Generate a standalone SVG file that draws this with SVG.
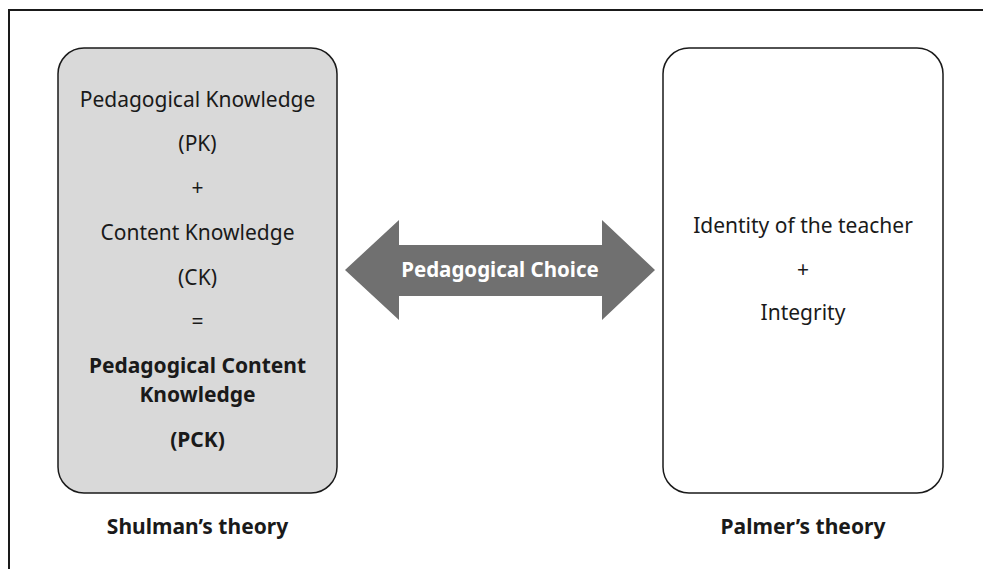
<svg xmlns="http://www.w3.org/2000/svg" width="983" height="569" viewBox="0 0 983 569">
<style>
text{font-family:"Noto Sans","Liberation Sans",sans-serif;font-size:21px;fill:#1a1a1a;text-anchor:middle}
.b{font-weight:bold}
.w{fill:#ffffff;font-weight:bold;font-size:20.5px}
.box{stroke:#1a1a1a;stroke-width:1.5}
</style>
<rect width="983" height="569" fill="#ffffff"/>
<g id="frame"><path d="M9 570 V10 H984" fill="none" stroke="#1a1a1a" stroke-width="2"/></g>
<g id="shulman">
<rect class="box" x="58" y="48" width="279" height="445" rx="26" fill="#d9d9d9"/>
<text x="197.5" y="107">Pedagogical Knowledge</text>
<text x="197.5" y="151">(PK)</text>
<text x="197.5" y="195">+</text>
<text x="197.5" y="240">Content Knowledge</text>
<text x="197.5" y="285">(CK)</text>
<text x="197.5" y="329">=</text>
<text class="b" x="197.5" y="373">Pedagogical Content</text>
<text class="b" x="197.5" y="402">Knowledge</text>
<text class="b" x="197.5" y="447">(PCK)</text>
<text class="b" x="197.5" y="534">Shulman’s theory</text>
</g>
<g id="palmer">
<rect class="box" x="663" y="48" width="280" height="445" rx="26" fill="#ffffff"/>
<text x="803" y="233">Identity of the teacher</text>
<text x="803" y="277">+</text>
<text x="803" y="320">Integrity</text>
<text class="b" x="803" y="534">Palmer’s theory</text>
</g>
<g id="connectors">
<polygon points="345,270 399,220 399,245 602,245 602,220 655,270 602,320 602,296 399,296 399,320" fill="#707070"/>
<text class="w" x="500" y="277">Pedagogical Choice</text>
</g>
</svg>
